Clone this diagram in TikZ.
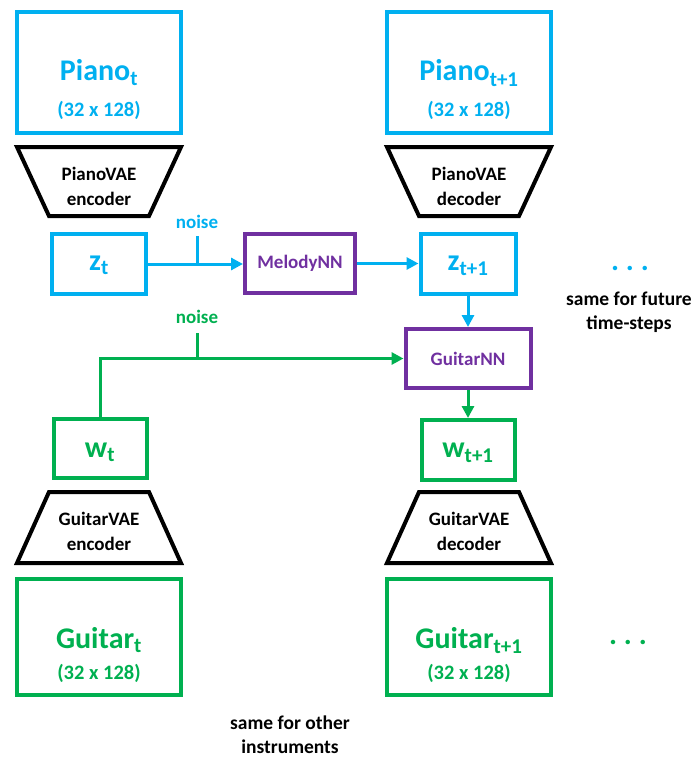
\documentclass[tikz,border=0pt]{standalone}
\usepackage{fontspec}
\setmainfont{Carlito}
\usetikzlibrary{arrows.meta}

\definecolor{pianoblue}{HTML}{00B0F0}
\definecolor{guitargreen}{HTML}{00B050}
\definecolor{nnpurple}{HTML}{7030A0}

\newcommand{\bigsize}{\fontsize{30}{32}\selectfont\bfseries}
\newcommand{\dimsize}{\fontsize{20.5}{24}\selectfont\bfseries}
\newcommand{\labsize}{\fontsize{19}{25}\selectfont\bfseries}
\newcommand{\notesize}{\fontsize{19.5}{24}\selectfont\bfseries}

\begin{document}
\begin{tikzpicture}[x=1pt,y=-1pt,
  box/.style={draw, line width=4pt, inner sep=0pt, minimum width=#1},
  pianobox/.style={box=#1, draw=pianoblue},
  guitarbox/.style={box=#1, draw=guitargreen},
  nnbox/.style={box=#1, draw=nnpurple, text=nnpurple, font=\labsize},
  bigtxt/.style={font=\bigsize, inner sep=0pt, anchor=base},
  dimtxt/.style={font=\dimsize, inner sep=0pt, anchor=base},
  labtxt/.style={font=\labsize, inner sep=0pt, anchor=base, align=center},
  notetxt/.style={font=\notesize, inner sep=0pt, anchor=base, align=center, text=black},
  vae/.style={draw=black, line width=4pt, line join=miter},
  conn/.style={line width=3pt},
  arr/.style={conn, -{Triangle[length=12pt,width=12pt]}},
]
\useasboundingbox (0,0) rectangle (694,760);

% ---------- piano rows ----------
\node[pianobox=164, minimum height=121pt] (pianoA) at (99,72.5) {};
\node[pianobox=164, minimum height=121pt] (pianoB) at (469,72.5) {};
\node[bigtxt, text=pianoblue] (pianoAt) at (99,81) {Piano\textsubscript{t}};
\node[dimtxt, text=pianoblue] (pianoAd) at (99,116) {(32 x 128)};
\node[bigtxt, text=pianoblue] (pianoBt) at (469,81) {Piano\textsubscript{t+1}};
\node[dimtxt, text=pianoblue] (pianoBd) at (469,116) {(32 x 128)};

% piano encoder / decoder
\draw[vae] (17,147) -- (181,147) -- (149,216) -- (49,216) -- cycle;
\draw[vae] (387,147) -- (551,147) -- (519,216) -- (419,216) -- cycle;
\node[labtxt] (penc) at (99,205) {PianoVAE\\encoder};
\node[labtxt] (pdec) at (469,205) {PianoVAE\\decoder};

% latent piano codes
\node[pianobox=94, minimum height=60pt] (zt) at (99,264) {};
\node[pianobox=95, minimum height=60pt] (ztp) at (468,264) {};
\node[bigtxt, text=pianoblue] (ztl) at (99,270) {z\textsubscript{t}};
\node[bigtxt, text=pianoblue] (ztpl) at (468,270) {z\textsubscript{t+1}};

% networks
\node[nnbox=110, minimum height=59pt] (mel) at (300,263.5) {MelodyNN};
\node[nnbox=125, minimum height=59pt] (gnn) at (468,358.5) {GuitarNN};

% ---------- guitar rows ----------
\node[guitarbox=93, minimum height=59pt] (wt) at (100,448.5) {};
\node[guitarbox=93, minimum height=60pt] (wtp) at (468,450) {};
\node[bigtxt, text=guitargreen] (wtl) at (100,457) {w\textsubscript{t}};
\node[bigtxt, text=guitargreen] (wtpl) at (468,457) {w\textsubscript{t+1}};

% guitar encoder / decoder
\draw[vae] (49,492) -- (149,492) -- (181,563) -- (17,563) -- cycle;
\draw[vae] (419,492) -- (519,492) -- (551,563) -- (387,563) -- cycle;
\node[labtxt] (genc) at (99,550) {GuitarVAE\\encoder};
\node[labtxt] (gdec) at (469,550) {GuitarVAE\\decoder};

\node[guitarbox=164, minimum height=116pt] (guitA) at (99,637) {};
\node[guitarbox=164, minimum height=116pt] (guitB) at (469,637) {};
\node[bigtxt, text=guitargreen] (guitAt) at (99,648) {Guitar\textsubscript{t}};
\node[dimtxt, text=guitargreen] (guitAd) at (99,679) {(32 x 128)};
\node[bigtxt, text=guitargreen] (guitBt) at (469,648) {Guitar\textsubscript{t+1}};
\node[dimtxt, text=guitargreen] (guitBd) at (469,679) {(32 x 128)};

% ---------- connectors ----------
\draw[arr, pianoblue] (zt.east) -- (zt.east -| mel.west);
\coordinate (pnoise) at (197,236);
\draw[conn, pianoblue] (pnoise) -- (pnoise |- zt.east);
\node[labtxt, text=pianoblue] (pnoisel) at (197,228) {noise};
\draw[arr, pianoblue] (mel.east) -- (mel.east -| ztp.west);
\draw[arr, pianoblue] (ztp.south) -- (gnn.north);

\draw[arr, guitargreen] (wt.north) |- (gnn.west);
\coordinate (gnoise) at (197,333);
\draw[conn, guitargreen] (gnoise) -- (gnoise |- gnn.west);
\node[labtxt, text=guitargreen] (gnoisel) at (197,323) {noise};
\draw[arr, guitargreen] (gnn.south) -- (wtp.north);

% ---------- continuation marks ----------
\node[bigtxt, text=pianoblue] (pdots) at (630,270) {.\ .\ .};
\node[bigtxt, text=guitargreen] (gdots) at (628,644) {.\ .\ .};
\node[notetxt] (future) at (629,329) {same for future\\time-steps};
\node[notetxt] (other) at (290,753) {same for other\\instruments};
\end{tikzpicture}
\end{document}
